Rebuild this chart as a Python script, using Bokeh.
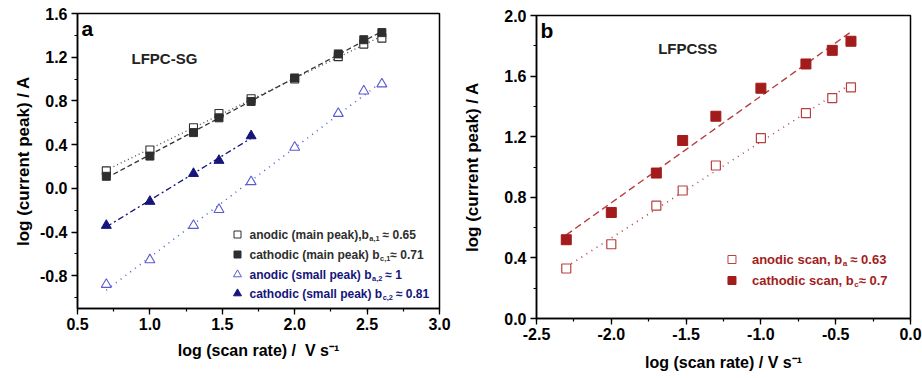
import numpy as np
from bokeh.plotting import figure
from bokeh.layouts import row, column
from bokeh.models import Range1d, SingleIntervalTicker, PrintfTickFormatter, Label
from bokeh.embed import file_html
from bokeh.resources import INLINE

# ---------------- data: panel a (LFPC-SG) ----------------
scan_rate_a = [0.699, 1.0, 1.301, 1.477, 1.699, 2.0, 2.301, 2.477, 2.602]
anodic_main = [0.16, 0.35, 0.555, 0.685, 0.82, 1.0, 1.205, 1.32, 1.375]
cathodic_main = [0.11, 0.295, 0.51, 0.645, 0.795, 1.01, 1.23, 1.36, 1.425]
anodic_small = [-0.88, -0.655, -0.34, -0.195, 0.06, 0.375, 0.685, 0.89, 0.955]
scan_rate_a_cs = [0.699, 1.0, 1.301, 1.477, 1.699]
cathodic_small = [-0.34, -0.12, 0.135, 0.255, 0.48]

# ---------------- data: panel b (LFPCSS) ----------------
scan_rate_b = [-2.301, -2.0, -1.699, -1.523, -1.301, -1.0, -0.699, -0.523, -0.398]
anodic_b = [0.33, 0.49, 0.745, 0.845, 1.01, 1.19, 1.355, 1.455, 1.525]
cathodic_b = [0.52, 0.70, 0.96, 1.175, 1.335, 1.52, 1.68, 1.77, 1.83]

# legend texts: (main, subscript, space-before-rest, rest)
legend_a = [("anodic (main peak),b", "a,1", True, "\u2248 0.65"),
            ("cathodic (main peak) b", "c,1", False, "\u2248 0.71"),
            ("anodic (small peak) b", "a,2", True, "\u2248 1"),
            ("cathodic (small peak) b", "c,2", True, "\u2248 0.81")]
legend_b = [("anodic scan, b", "a", True, "\u2248 0.63"),
            ("cathodic scan, b", "c", False, "\u2248 0.7")]

FONT = "Liberation Sans"
GRAY = "#2e2e2e"
BLUE = "#5b5bd0"
NAVY = "#15157a"
RED = "#a31c1c"
RED_L = "#b84040"

# Arial/Liberation Sans Bold advance widths (per 1000 em)
W = {' ': 278, '(': 333, ')': 333, ',': 278, '-': 333, '.': 278, '/': 278,
     '\u2248': 584, 'a': 556, 'b': 611, 'c': 556, 'd': 611, 'e': 556, 'g': 611,
     'h': 611, 'i': 278, 'k': 556, 'l': 278, 'm': 889, 'n': 611, 'o': 611,
     'p': 611, 'r': 389, 's': 556, 't': 333, 'u': 611}
for dch in "0123456789":
    W[dch] = 556


def text_w(s, size):
    return sum(W.get(ch, 556) for ch in s) * size / 1000.0


def make_fig(width, height, xr, yr, left, right, top, bottom):
    p = figure(width=width, height=height, x_range=Range1d(*xr), y_range=Range1d(*yr),
               output_backend="svg", toolbar_location=None,
               min_border_left=left, min_border_right=right,
               min_border_top=top, min_border_bottom=bottom)
    p.grid.visible = False
    p.outline_line_color = "black"
    p.outline_line_width = 1.5
    p.background_fill_color = "white"
    p.border_fill_color = "white"
    for ax in [p.xaxis[0], p.yaxis[0]]:
        ax.axis_line_width = 1.5
        ax.axis_line_color = "black"
        ax.major_tick_out = 6
        ax.major_tick_in = 0
        ax.minor_tick_out = 3
        ax.minor_tick_in = 0
        ax.major_tick_line_width = 1.3
        ax.minor_tick_line_width = 1.2
        ax.major_label_text_font = FONT
        ax.major_label_text_font_style = "bold"
        ax.major_label_text_font_size = "16px"
        ax.major_label_text_color = "black"
        ax.axis_label_text_font = FONT
        ax.axis_label_text_font_style = "bold"
        ax.axis_label_text_color = "black"
        ax.formatter = PrintfTickFormatter(format="%.1f")
    p.xaxis.ticker = SingleIntervalTicker(interval=0.5, num_minor_ticks=2)
    p.yaxis.ticker = SingleIntervalTicker(interval=0.4, num_minor_ticks=2)
    p.xaxis.major_label_standoff = 3
    p.yaxis.major_label_standoff = 4
    p.yaxis.axis_label = "log (current peak) / A"
    p.xaxis.axis_label_text_font_size = "16px"
    p.yaxis.axis_label_text_font_size = "17px"
    return p


def fit_line(p, x, y, color, dash, width=1.3):
    k, b = np.polyfit(x, y, 1)
    xs = np.array([min(x), max(x)])
    p.line(xs, k * xs + b, line_color=color, line_dash=dash, line_width=width)


def legend_entry(p, xd, yd, pieces, color, size):
    main, sub, space, rest = pieces
    common = dict(x=xd, y=yd, text_font=FONT, text_font_style="bold",
                  text_color=color, text_baseline="middle", text_align="left")
    w1 = text_w(main, size)
    sub_size = size * 0.62
    w2 = text_w(sub, sub_size)
    gap = text_w(" ", size) if space else 0.5
    p.add_layout(Label(text=main, x_offset=0, text_font_size=f"{size}px", **common))
    p.add_layout(Label(text=sub, x_offset=w1 + 0.5, y_offset=-4,
                       text_font_size=f"{sub_size:.1f}px", **common))
    p.add_layout(Label(text=rest, x_offset=w1 + w2 + gap, text_font_size=f"{size}px", **common))


# ================= panel a =================
XA, YA = (0.5, 3.0), (-1.1, 1.6)
pa = make_fig(460, 378, XA, YA, 77, 21, 13, 70)
pa.xaxis.axis_label = "log (scan rate) /\u00a0 V s\u207b\u00b9"
pa.xaxis.axis_label_standoff = 9
pa.yaxis.axis_label_standoff = 4

fit_line(pa, scan_rate_a, anodic_main, "#555555", "1 3", 1.4)
fit_line(pa, scan_rate_a, cathodic_main, "#333333", "5 3", 1.3)
fit_line(pa, scan_rate_a, anodic_small, BLUE, "1 5", 1.6)
fit_line(pa, scan_rate_a_cs, cathodic_small, NAVY, "6 3 2 3", 1.3)

pa.scatter(scan_rate_a, anodic_main, marker="square", size=8, line_color=GRAY,
           fill_color="white", line_width=1.1)
pa.scatter(scan_rate_a, cathodic_main, marker="square", size=8, line_color=GRAY,
           fill_color=GRAY)
pa.scatter(scan_rate_a, anodic_small, marker="triangle", size=10, line_color=BLUE,
           fill_color="white", line_width=1.1)
pa.scatter(scan_rate_a_cs, cathodic_small, marker="triangle", size=10, line_color=NAVY,
           fill_color=NAVY)


# pixel layout helpers (frame-relative) for panel a
def pa_x(px):
    return XA[0] + px * (XA[1] - XA[0]) / 362.0


def pa_y(py):
    return YA[1] - py * (YA[1] - YA[0]) / 295.0


rows_a_py = [221, 241, 261, 280]
mark_x = pa_x(160)
text_x = pa_x(172)
leg_markers = [("square", GRAY, "white", 7), ("square", GRAY, GRAY, 7),
               ("triangle", BLUE, "white", 8), ("triangle", NAVY, NAVY, 8)]
leg_colors = [GRAY, GRAY, NAVY, NAVY]
for i, py in enumerate(rows_a_py):
    m, lc, fc, s = leg_markers[i]
    pa.scatter([mark_x], [pa_y(py)], marker=m, size=s, line_color=lc, fill_color=fc)
    legend_entry(pa, text_x, pa_y(py), legend_a[i], leg_colors[i], 12)

pa.add_layout(Label(x=XA[0], y=YA[1], x_offset=4, y_offset=-3, text="a",
                    text_font=FONT, text_font_style="bold", text_font_size="21px",
                    text_baseline="top", text_color="black"))
pa.add_layout(Label(x=pa_x(54), y=pa_y(45), text="LFPC-SG", text_font=FONT,
                    text_font_style="bold", text_font_size="15px",
                    text_baseline="middle", text_color="#222222"))

# ================= panel b =================
XB, YB = (-2.5, 0.0), (0.0, 2.0)
pb = make_fig(462, 378, XB, YB, 75, 12, 15, 60)
pb.xaxis.axis_label = "log (scan rate) / V s\u207b\u00b9"
pb.xaxis.axis_label_standoff = 11
pb.yaxis.axis_label_standoff = 19

fit_line(pb, scan_rate_b, anodic_b, RED_L, "1 5", 1.6)
fit_line(pb, scan_rate_b, cathodic_b, RED_L, "7 4", 1.4)
pb.scatter(scan_rate_b, anodic_b, marker="square", size=9, line_color=RED_L,
           fill_color="white", line_width=1.2)
pb.scatter(scan_rate_b, cathodic_b, marker="square", size=10, line_color=RED,
           fill_color=RED)


def pb_x(px):
    return XB[0] + px * (XB[1] - XB[0]) / 375.0


def pb_y(py):
    return YB[1] - py * (YB[1] - YB[0]) / 303.0


rows_b_py = [244, 265]
leg_b_markers = [("square", RED_L, "white"), ("square", RED, RED)]
for i, py in enumerate(rows_b_py):
    m, lc, fc = leg_b_markers[i]
    pb.scatter([pb_x(196)], [pb_y(py)], marker=m, size=8, line_color=lc, fill_color=fc)
    legend_entry(pb, pb_x(216), pb_y(py), legend_b[i], RED, 13)

pb.add_layout(Label(x=XB[0], y=YB[1], x_offset=4, y_offset=-3, text="b",
                    text_font=FONT, text_font_style="bold", text_font_size="21px",
                    text_baseline="top", text_color="black"))
pb.add_layout(Label(x=pb_x(122), y=pb_y(33), text="LFPCSS", text_font=FONT,
                    text_font_style="bold", text_font_size="15px",
                    text_baseline="middle", text_color="#222222"))

layout = row(column(pa), column(pb))
open("out.html", "w").write(file_html(layout, INLINE))
